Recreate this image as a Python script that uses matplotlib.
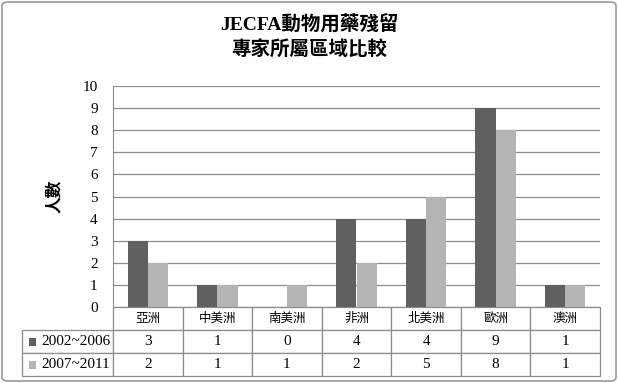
import matplotlib
matplotlib.use("Agg")
import matplotlib.pyplot as plt
import numpy as np
from matplotlib.patches import FancyBboxPatch, Rectangle

categories = ["亞洲", "中美洲", "南美洲", "非洲", "北美洲", "歐洲", "澳洲"]
series_names = ["2002~2006", "2007~2011"]
s1 = [3, 1, 0, 4, 4, 9, 1]
s2 = [2, 1, 1, 2, 5, 8, 1]
colors = ["#606060", "#b4b4b4"]
title = "JECFA動物用藥殘留\n專家所屬區域比較"
ylabel = "人數"
yticks = list(range(0, 11))

W, H = 618, 383
fig = plt.figure(figsize=(W / 100, H / 100), dpi=100)
fams = ["Liberation Serif", "Noto Sans CJK TC", "DejaVu Sans"]
plt.rcParams["font.family"] = fams

# outer border
fig.patches.append(FancyBboxPatch((2 / W, 2 / H), 1 - 4 / W, 1 - 4 / H,
                                  boxstyle="round,pad=0,rounding_size=0.01",
                                  transform=fig.transFigure, fill=False,
                                  edgecolor="#999999", linewidth=1.2))

ax_l, ax_r, ax_t, ax_b = 113, 600, 86, 307
ax = fig.add_axes([ax_l / W, 1 - ax_b / H, (ax_r - ax_l) / W, (ax_b - ax_t) / H])
x = np.arange(len(categories))
bw = 0.29
ax.bar(x - bw / 2, s1, bw, color=colors[0], zorder=3)
ax.bar(x + bw / 2, s2, bw, color=colors[1], zorder=3)
ax.set_xlim(-0.5, len(categories) - 0.5)
ax.set_ylim(0, 10)
ax.set_yticks(yticks)
ax.set_yticklabels([str(v) for v in yticks], fontsize=11)
ax.set_xticks([])
ax.grid(axis="y", color="#8c8c8c", linewidth=0.9, zorder=0)
for s in ["top", "right", "bottom"]:
    ax.spines[s].set_visible(False)
ax.spines["left"].set_color("#8c8c8c")
ax.tick_params(axis="y", length=0, pad=11)
ax.set_ylabel(ylabel, fontsize=12, fontweight="bold", labelpad=14)

# table
cellText = [[series_names[0]] + [str(v) for v in s1],
            [series_names[1]] + [str(v) for v in s2]]
colLabels = [""] + categories
tl, tr, tt, tb = 22, 600, 307, 376
aw, ah = ax_r - ax_l, ax_b - ax_t
bbox = [(tl - ax_l) / aw, (ax_b - tb) / ah, (tr - tl) / aw, (tb - tt) / ah]
lab_w = (ax_l - tl) / (tr - tl)
col_w = (1 - lab_w) / len(categories)
tab = ax.table(cellText=cellText, colLabels=colLabels, cellLoc="center",
               colWidths=[lab_w] + [col_w] * len(categories), bbox=bbox)
tab.auto_set_font_size(False)
for (r, c), cell in tab.get_celld().items():
    cell.set_edgecolor("#8c8c8c")
    cell.set_linewidth(0.9)
    cell.get_text().set_fontsize(11 if r > 0 else 9)
    if r == 0 and c == 0:
        cell.visible_edges = ""
    if r > 0 and c == 0:
        cell.get_text().set_ha("right")
        cell._loc = "right"
        cell.PAD = 0.03

# legend squares in table rows
row_h = (tb - tt) / 3
for i, col in enumerate(colors):
    yc = tt + row_h * (i + 1.5)
    fig.patches.append(Rectangle((29 / W, 1 - (yc + 4) / H), 7 / W, 8 / H,
                                 transform=fig.transFigure, facecolor=col,
                                 edgecolor="none"))

fig.text(0.5, 1 - 37 / H, title, ha="center", va="center", fontsize=14,
         fontweight="bold", linespacing=1.5)

fig.savefig("out.png", dpi=100)
